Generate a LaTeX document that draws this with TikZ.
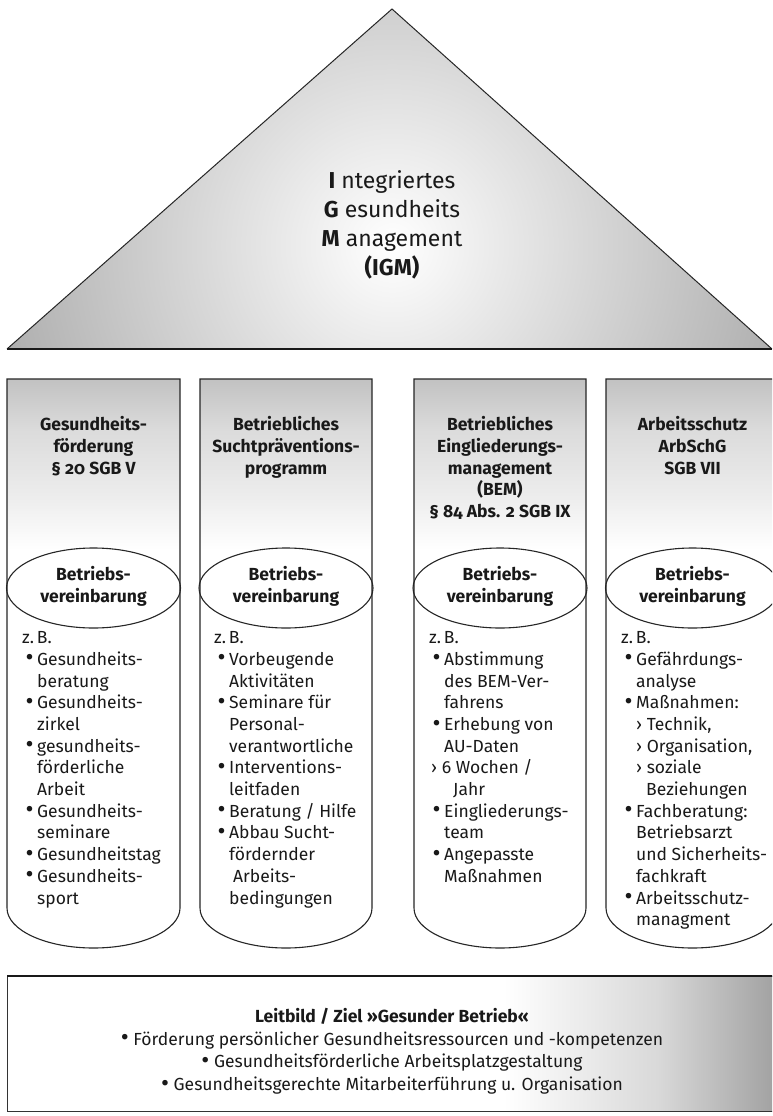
\documentclass[tikz,border=0pt]{standalone}
\usepackage{fontspec}
\setmainfont{Fira Sans}[Numbers=OldStyle]
\usetikzlibrary{shapes.geometric}

% shadings: the path occupies 25bp..75bp of the declared range
\pgfdeclareverticalshading{pillarshade}{100bp}{color(0bp)=(white); color(60bp)=(white); color(64.5bp)=(black!7); color(70.5bp)=(black!14); color(75bp)=(black!24); color(100bp)=(black!24)}
\pgfdeclarehorizontalshading{baseshade}{100bp}{color(0bp)=(white); color(57bp)=(white); color(67bp)=(black!15); color(75bp)=(black!38); color(100bp)=(black!38)}

% a heavier bullet, bullet item, continuation line and sub item
\newcommand\dotmark{\raisebox{-0.6pt}{\scalebox{1.4}{•}}}
\newcommand\bl[1]{\makebox[15pt][l]{\hspace*{3.5pt}\dotmark}#1}
\newcommand\ct[1]{\hspace*{15pt}#1}
\newcommand\sub[1]{\hspace*{15pt}› #1}

\tikzset{
  pillar/.style={draw=black!85, line width=1.1pt, shading=pillarshade},
  pillartitle/.style={font=\bfseries\fontsize{17.5}{21.7}\selectfont, text=black!90,
    align=center, anchor=north, inner sep=0pt, execute at begin node=\strut},
  pillarbody/.style={font=\fontsize{17.5}{21.7}\selectfont, text=black!90,
    align=left, anchor=north west, inner sep=0pt, execute at begin node=\strut},
  agreement/.style={ellipse, draw=black!85, line width=1.1pt, minimum width=174pt,
    minimum height=80pt, inner sep=0pt, font=\bfseries\fontsize{17.5}{21.7}\selectfont,
    text=black!90, align=center, execute at begin node=\strut, execute at end node=\strut},
  rooftext/.style={font=\fontsize{23}{29}\selectfont, text=black!90, align=center,
    anchor=north, inner sep=0pt, execute at begin node=\strut},
  goaltext/.style={font=\fontsize{17.5}{22.7}\selectfont, text=black!90, align=center,
    anchor=north, inner sep=0pt, execute at begin node=\strut},
}

% pillar with a half-elliptic bottom: left x, right x
\newcommand\drawpillar[2]{%
  \pgfmathsetmacro\pcx{(#1+#2)/2}%
  \pgfmathsetmacro\pkx{0.5523*(#2-#1)/2}%
  \path[pillar] (#1,379) -- (#1,908)
    .. controls (#1,930.1) and ({\pcx-\pkx},948) .. (\pcx,948)
    .. controls ({\pcx+\pkx},948) and (#2,930.1) .. (#2,908)
    -- (#2,379) -- cycle;}

\begin{document}
\begin{tikzpicture}[x=1pt, y=-1pt]
\useasboundingbox (0,0) rectangle (772,1116);
\clip (0,0) rectangle (772,1116);
\fill[white] (0,0) rectangle (772,1116);

% roof
\begin{scope}
  \clip (7,349) -- (392,9) -- (772,349) -- cycle;
  \shade[inner color=white, outer color=black!34] (392,245) circle[radius=430pt];
\end{scope}
\draw[black!85, line width=1pt, line join=miter] (7,349) -- (392,9) -- (772,349);
\draw[black!90, line width=2pt] (7,349) -- (772,349);
\node[rooftext] (igm) at (392,170) {\textbf{I} ntegriertes\\\textbf{G} esundheits\\\textbf{M} anagement\\\textbf{(IGM)}};

% pillars
\drawpillar{7}{180}
\drawpillar{200}{372}
\drawpillar{414}{586}
\drawpillar{606}{779}

\node[pillartitle] (t1) at (93.5,416.4) {Gesundheits-\\förderung\\§ 20 SGB V};
\node[pillartitle] (t2) at (286,416.4) {Betriebliches\\Suchtpräventions-\\programm};
\node[pillartitle] (t3) at (500,416.4) {Betriebliches\\Eingliederungs-\\management\\(BEM)\\§ 84 Abs. 2 SGB IX};
\node[pillartitle] (t4) at (692.5,416.4) {Arbeitsschutz\\ArbSchG\\SGB VII};

\node[agreement] (a1) at (93.5,588) {Betriebs-\\vereinbarung};
\node[agreement] (a2) at (286,588) {Betriebs-\\vereinbarung};
\node[agreement] (a3) at (500,588) {Betriebs-\\vereinbarung};
\node[agreement] (a4) at (692.5,588) {Betriebs-\\vereinbarung};

\node[pillarbody] (b1) at (22,631.4) {z.\,B.\\
  \bl{Gesundheits-}\\\ct{beratung}\\
  \bl{Gesundheits-}\\\ct{zirkel}\\
  \bl{gesundheits-}\\\ct{förderliche}\\\ct{Arbeit}\\
  \bl{Gesundheits-}\\\ct{seminare}\\
  \bl{Gesundheitstag}\\
  \bl{Gesundheits-}\\\ct{sport}};

\node[pillarbody] (b2) at (214,631.4) {z.\,B.\\
  \bl{Vorbeugende}\\\ct{Aktivitäten}\\
  \bl{Seminare für}\\\ct{Personal-}\\\ct{verantwortliche}\\
  \bl{Interventions-}\\\ct{leitfaden}\\
  \bl{Beratung / Hilfe}\\
  \bl{Abbau Sucht-}\\\ct{fördernder}\\\hspace*{19pt}Arbeits-\\\ct{bedingungen}};

\node[pillarbody] (b3) at (429,631.4) {z.\,B.\\
  \bl{Abstimmung}\\\ct{des BEM-Ver-}\\\ct{fahrens}\\
  \bl{Erhebung von}\\\ct{AU-Daten}\\
  \hspace*{2pt}› 6 Wochen /\\\hspace*{24pt}Jahr\\
  \bl{Eingliederungs-}\\\ct{team}\\
  \bl{Angepasste}\\\ct{Maßnahmen}};

\node[pillarbody] (b4) at (621,631.4) {z.\,B.\\
  \bl{Gefährdungs-}\\\ct{analyse}\\
  \bl{Maßnahmen:}\\\sub{Technik,}\\\sub{Organisation,}\\\sub{soziale}\\\hspace*{25pt}Beziehungen\\
  \bl{Fachberatung:}\\\ct{Betriebsarzt}\\\ct{und Sicherheits-}\\\ct{fachkraft}\\
  \bl{Arbeitsschutz-}\\\ct{managment}};

% foundation
\path[shading=baseshade, draw=black!80, line width=1pt] (7,976) rectangle (782,1111);
\draw[black!90, line width=2pt] (7,976) -- (782,976);
\node[goaltext] (goal) at (392,1008) {\textbf{Leitbild / Ziel »Gesunder Betrieb«}\\
  \dotmark{} Förderung persönlicher Gesundheitsressourcen und -kompetenzen\\
  \dotmark{} Gesundheitsförderliche Arbeitsplatzgestaltung\\
  \dotmark{} Gesundheitsgerechte Mitarbeiterführung u. Organisation};
\end{tikzpicture}
\end{document}
